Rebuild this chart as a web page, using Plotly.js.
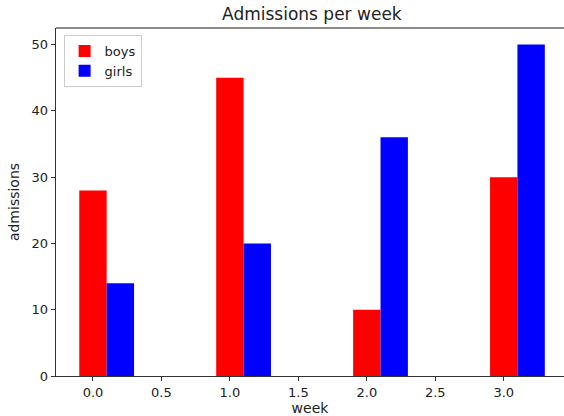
<!DOCTYPE html>
<html><head><meta charset="utf-8">
<script src="https://cdn.plot.ly/plotly-3.0.1.min.js"></script>
<style>html,body{margin:0;padding:0;background:#fff}#chart{width:564px;height:416px}</style>
</head><body><div id="chart"></div>
<script>
const weeks = [0, 1, 2, 3];
const boys = [28, 45, 10, 30];
const girls = [14, 20, 36, 50];
const barWidth = 0.2;
const xTicks = [0, 0.5, 1, 1.5, 2, 2.5, 3];
const xTickText = ['0.0', '0.5', '1.0', '1.5', '2.0', '2.5', '3.0'];
const yTicks = [0, 10, 20, 30, 40, 50];

const fam = 'DejaVu Sans, sans-serif';
const tickFont = {family: fam, size: 13, color: '#222'};
const labelFont = {family: fam, size: 14, color: '#222'};
const data = [
  {type: 'bar', name: 'boys', x: weeks, y: boys, width: barWidth, marker: {color: '#ff0000'}},
  {type: 'bar', name: 'girls', x: weeks.map(w => w + barWidth), y: girls, width: barWidth, marker: {color: '#0000ff'}}
];
const layout = {
  width: 564, height: 416,
  margin: {l: 56, r: 0, t: 28, b: 40},
  paper_bgcolor: '#fff', plot_bgcolor: '#fff',
  font: tickFont,
  barmode: 'overlay',
  showlegend: true,
  title: {text: 'Admissions per week', font: {family: fam, size: 17, color: '#222'}, x: 0.553, xanchor: 'center', y: 0.98, yanchor: 'top'},
  xaxis: {
    range: [-0.27, 3.44], tickvals: xTicks, ticktext: xTickText, tickfont: tickFont,
    showgrid: false, zeroline: false, showline: true, linecolor: '#333', linewidth: 1.3, mirror: false,
    ticks: 'outside', ticklen: 4, tickcolor: '#333',
    title: {text: 'week', standoff: 9, font: labelFont}
  },
  yaxis: {
    range: [0, 52.5], tickvals: yTicks, tickfont: tickFont,
    showgrid: false, zeroline: false, showline: true, linecolor: '#333', linewidth: 1.3,
    ticks: 'outside', ticklen: 4, tickcolor: '#333',
    title: {text: 'admissions', standoff: 8, font: labelFont}
  },
  shapes: [{type: 'line', xref: 'paper', yref: 'paper', x0: 0, x1: 1, y0: 1, y1: 1, line: {color: '#666', width: 1.5}}],
  legend: {x: 0.015, y: 0.98, xanchor: 'left', yanchor: 'top', bgcolor: 'rgba(255,255,255,0.8)', bordercolor: '#ccc', borderwidth: 1, font: tickFont, itemwidth: 30, tracegroupgap: 2}
};
Plotly.newPlot('chart', data, layout, {displayModeBar: false, staticPlot: true});
</script></body></html>
